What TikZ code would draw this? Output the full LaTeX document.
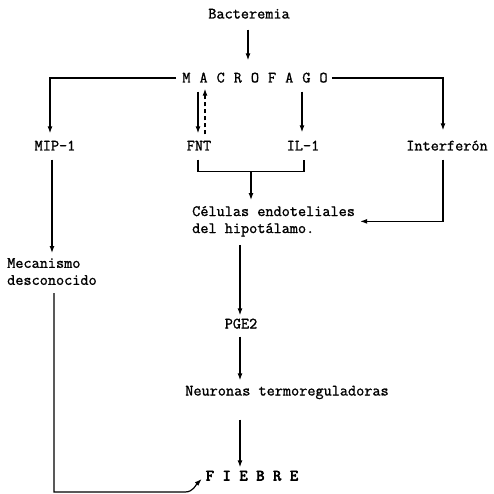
\documentclass[tikz,border=0pt]{standalone}
\usepackage{fontspec}
\newfontfamily\tw{Latin Modern Mono}[FakeBold=1.2]
\newfontfamily\twb{Latin Modern Mono}[FakeBold=4]
\usetikzlibrary{arrows.meta,calc}
\newcommand\lsp{\hspace{9.0pt}}
\newcommand\fsp{\hspace{8.7pt}}
\begin{document}
\begin{tikzpicture}[x=1pt,y=-1pt,
  lbl/.style={inner sep=0pt, font=\fontsize{15.8}{17}\selectfont\tw, text height=9pt, text depth=2pt},
  ml/.style={inner sep=0pt, font=\fontsize{15.8}{17}\selectfont\tw, align=left},
  con/.style={line width=1.2pt},
  arr/.style={con, -{Latex[length=7pt,width=5pt]}},
  dsh/.style={arr, dash pattern=on 4pt off 3pt}]
\useasboundingbox (0,0) rectangle (493,494);
\fill[white] (0,0) rectangle (493,494);

\node[lbl] (bact) at (249,15) {Bacteremia};
\node[lbl] (macro) at (255,79) {M\lsp A\lsp C\lsp R\lsp O\lsp F\lsp A\lsp G\lsp O};
\node[lbl] (mip) at (55,147) {MIP-1};
\node[lbl] (fnt) at (199,147) {FNT};
\node[lbl] (il) at (303,147) {IL-1};
\node[lbl] (inter) at (447,147) {Interferón};
\node[ml, anchor=north west] (cel) at (192,206) {Células endoteliales\\del hipotálamo.};
\node[ml, anchor=north west] (meca) at (7,258) {Mecanismo\\desconocido};
\node[lbl] (pge) at (241,325) {PGE2};
\node[lbl] (neu) at (287,392) {Neuronas termoreguladoras};
\node[lbl, font=\fontsize{15.8}{17}\selectfont\twb] (fiebre) at (252,477) {F\fsp I\fsp E\fsp B\fsp R\fsp E};

% Bacteremia -> Macrofago
\draw[arr] ($(bact.south)+(-1,9)$) -- ($(bact.south |- macro.north)+(-1,-13)$);
% Macrofago -> MIP-1 and Interferon
\draw[arr] ($(macro.west)+(-6,-1)$) -| ($(mip.north)+(-5,-8)$);
\draw[arr] ($(macro.east)+(4,-1)$) -| ($(inter.north)+(-4,-11)$);
% Macrofago <-> FNT, IL-1
\draw[arr] ($(macro.south -| fnt.north)+(-1,7)$) -- ($(fnt.north)+(-1,-8)$);
\draw[dsh] ($(fnt.north)+(6,-7)$) -- ($(macro.south -| fnt.north)+(6,4)$);
\draw[arr] ($(macro.south -| il.north)+(-1,7)$) -- ($(il.north)+(-1,-9)$);
% bracket FNT / IL-1
\coordinate (brk) at ($(fnt.south)!0.5!(il.south)+(0,19)$);
\draw[con] ($(fnt.south)+(-1,7)$) -- ($(fnt.south)+(-1,19)$) -- ($(il.south)+(1,19)$) -- ($(il.south)+(1,7)$);
\draw[arr] (brk) -- ($(brk |- cel.north)+(0,-6)$);
% Interferon -> Celulas
\draw[arr] ($(inter.south)+(-4,7)$) |- ($(cel.east)+(5,0)$);
% Celulas -> PGE2 -> Neuronas -> Fiebre
\draw[arr] ($(cel.south -| pge.north)+(-1,8)$) -- ($(pge.north)+(-1,-4)$);
\draw[arr] ($(pge.south)+(-1,6)$) -- ($(pge.south |- neu.north)+(-1,-6)$);
\draw[arr] ($(pge.south |- neu.south)+(-1,22)$) -- ($(pge.south |- fiebre.north)+(-1,-4)$);
% MIP-1 -> Mecanismo
\draw[arr] ($(mip.south)+(-3,7)$) -- ($(mip.south |- meca.north)+(-3,-5)$);
% Mecanismo -> Fiebre
\coordinate (c1) at ($(mip.south |- meca.south)+(-1,0)$);
\draw[arr] ($(c1)+(0,8)$) -- (c1 |- 0,492) -- (185,492) to[out=0,in=-135] ($(fiebre.west)+(-4,2)$);
\end{tikzpicture}
\end{document}
